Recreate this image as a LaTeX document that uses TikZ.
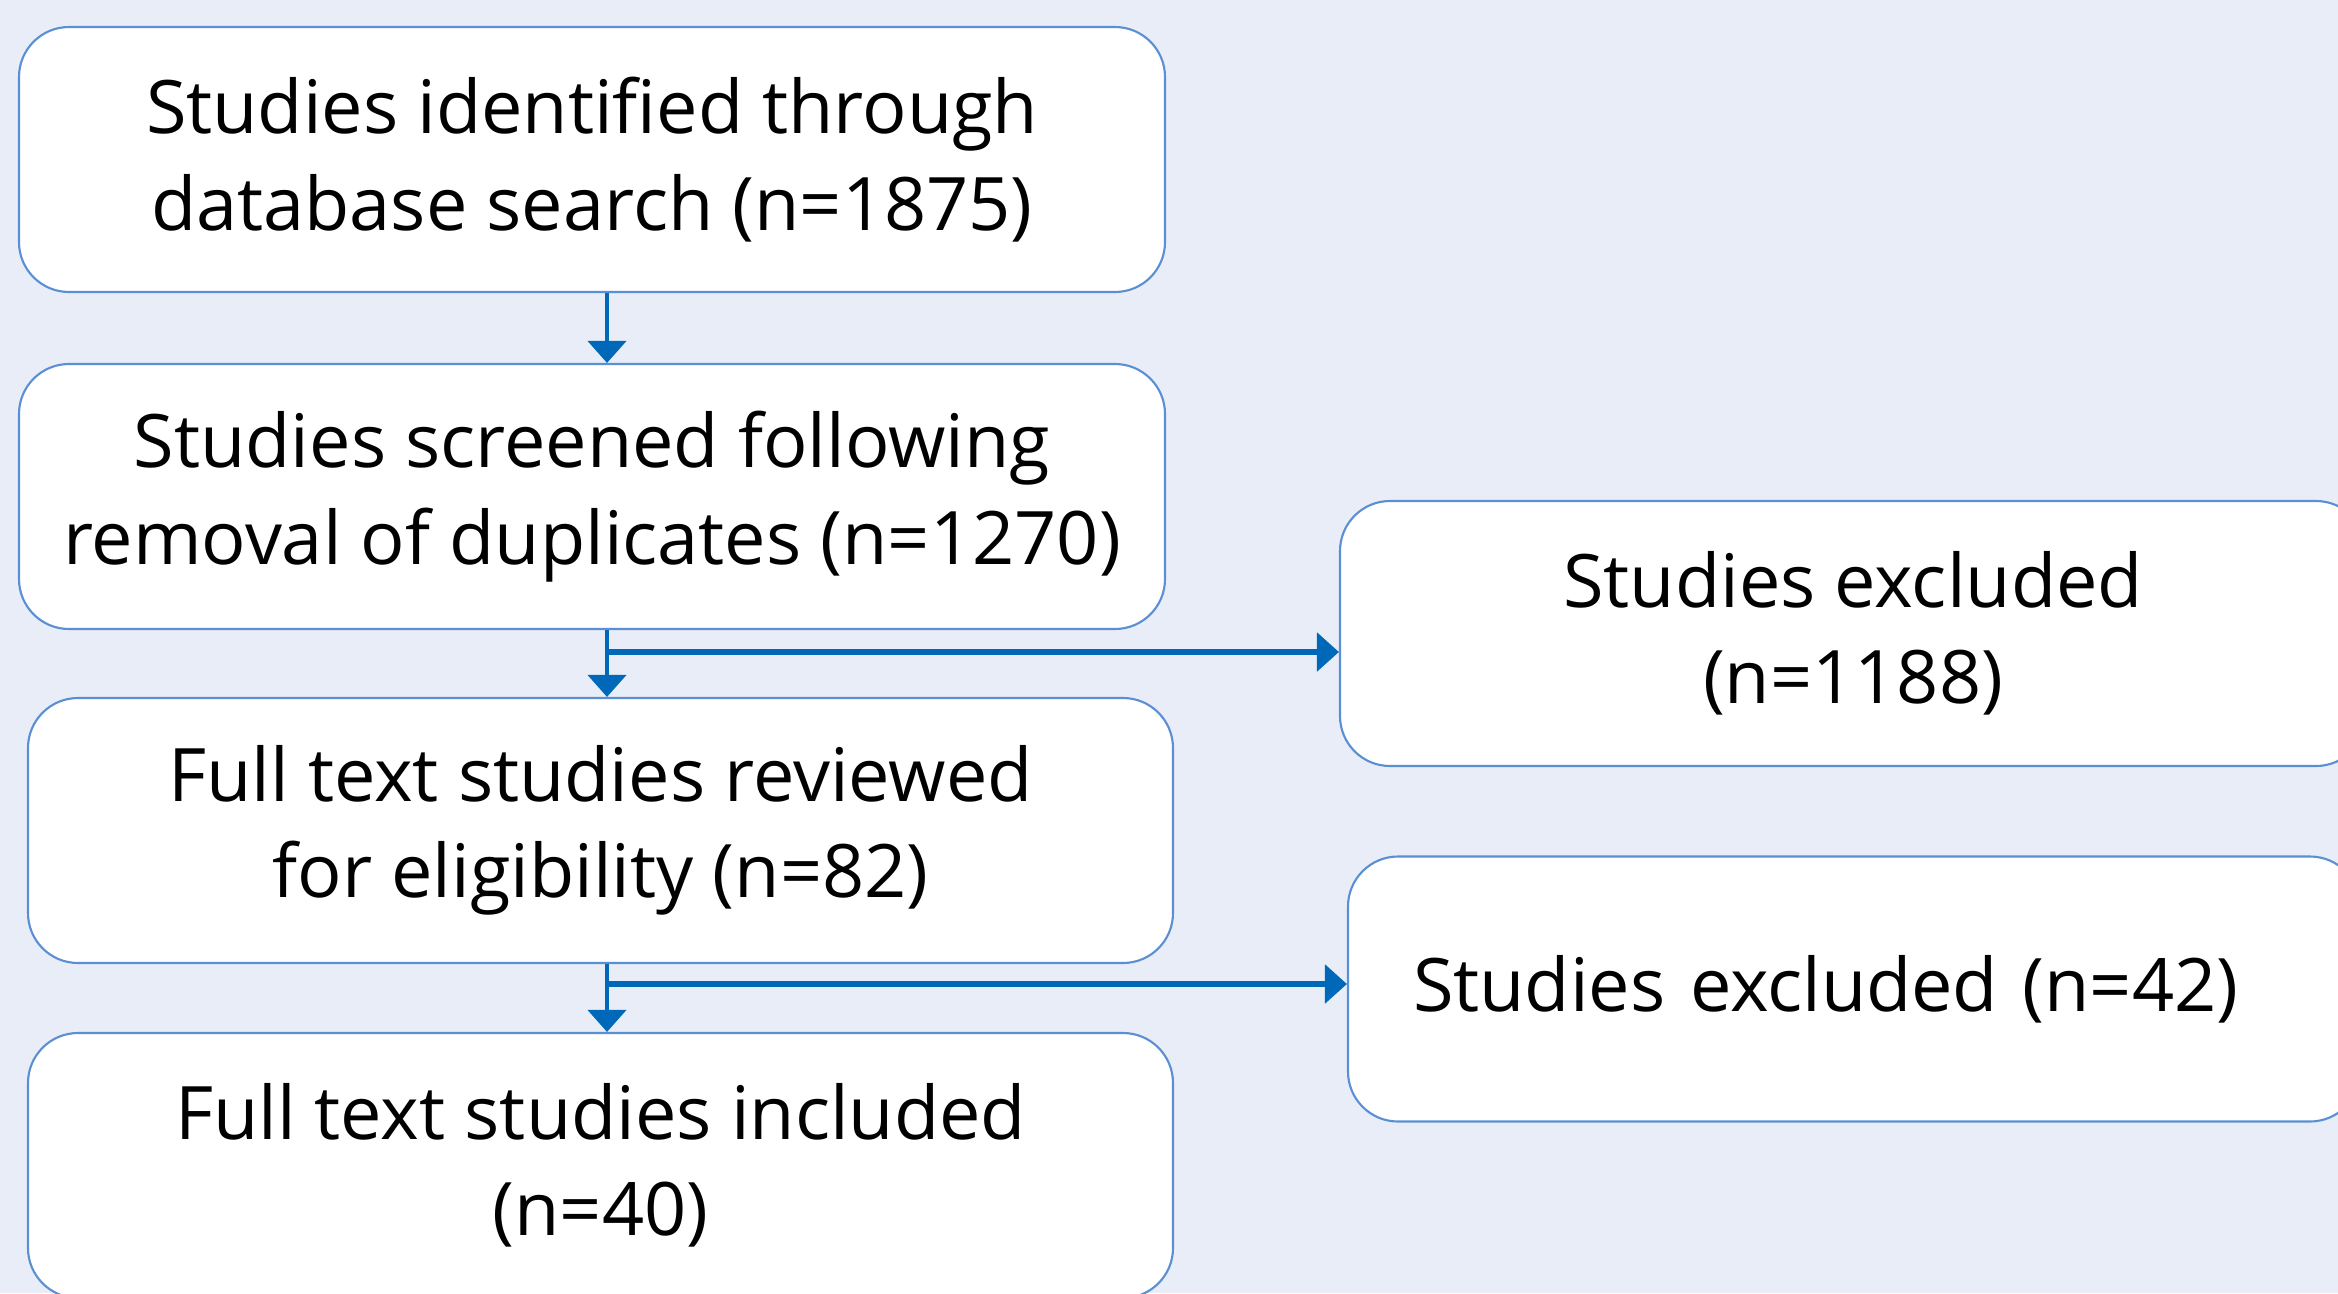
\documentclass[tikz,border=0pt]{standalone}
\usepackage{fontspec}
\setmainfont{Open Sans}
\usetikzlibrary{arrows.meta}
\definecolor{bgblue}{HTML}{E8EDF8}
\definecolor{boxline}{HTML}{5B8FD3}
\definecolor{arrowblue}{HTML}{0068B8}
\begin{document}
\begin{tikzpicture}[
    box/.style={draw=boxline, fill=white, line width=0.6pt, rounded corners=0.5cm,
        minimum height=2.65cm, align=center, font=\fontsize{21}{27.4}\selectfont},
    flow/.style={draw=arrowblue, line width=1.2pt, -{Triangle[width=0.38cm, length=0.22cm]}}]
    \clip (0,0) rectangle (23.38,-12.93);
    \fill[bgblue] (0,0) rectangle (23.38,-12.93);
    % main column
    \node[box, minimum width=11.46cm] (ident) at (5.92,-1.595) {Studies identified through\\database search (n=1875)};
    \node[box, minimum width=11.46cm] (screen) at (5.92,-4.965) {Studies screened following\\removal of duplicates (n=1270)};
    \node[box, minimum width=11.45cm] (full) at (6.005,-8.305) {Full text studies reviewed\\for eligibility (n=82)};
    \node[box, minimum width=11.45cm] (incl) at (6.005,-11.655) {Full text studies included\\(n=40)};
    % exclusions
    \node[box, minimum width=10.26cm] (excl1) at (18.53,-6.335) {Studies excluded\\(n=1188)};
    \node[box, minimum width=10.12cm, inner xsep=0.65cm, text width=8.82cm, align=left] (excl2) at (18.54,-9.89) {Studies excluded (n=42)};
    \coordinate (b1) at (6.07,-6.52); \coordinate (b2) at (6.07,-9.84);
    \foreach \a/\b in {ident/screen, screen/full, full/incl}
        \draw[flow] (\a.south -| b1) -- (\b.north -| b1);
    \draw[flow, line width=1.7pt] (b1) -- (excl1.west |- b1);
    \draw[flow, line width=1.7pt] (b2) -- (excl2.west |- b2);
\end{tikzpicture}
\end{document}
